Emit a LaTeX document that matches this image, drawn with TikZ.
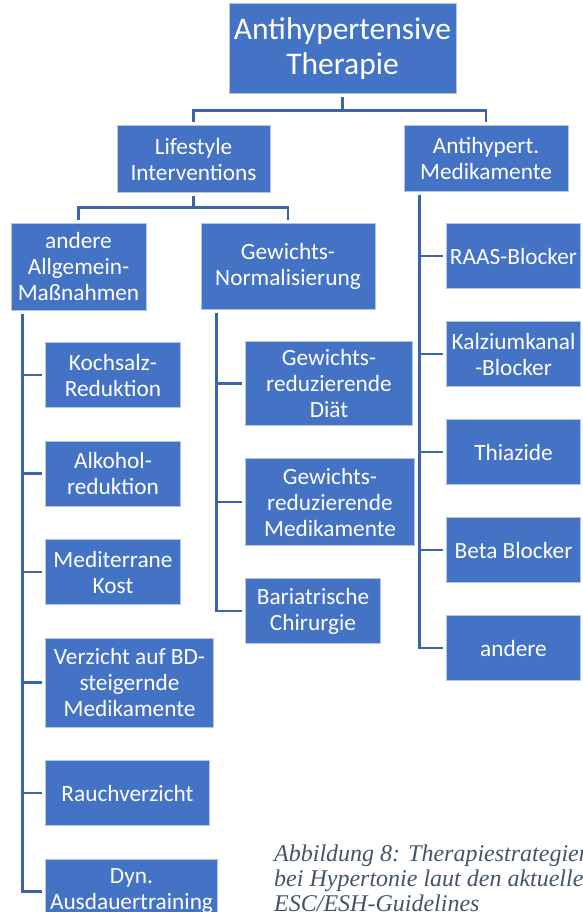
\documentclass[tikz,border=0pt]{standalone}
\usepackage{fontspec}
\usepackage{tikz}
\usetikzlibrary{positioning}
\newfontfamily\boxfont{Carlito}
\newfontfamily\capfont{Liberation Serif}
\definecolor{boxblue}{HTML}{4472C4}
\definecolor{lineblue}{HTML}{3C64AC}
\definecolor{capgray}{HTML}{44546A}
\tikzset{
    %Define style for boxes
    entry/.style={
           rectangle,
           draw=white!60!boxblue, line width=1pt,
           fill=boxblue,
           text=white,
           inner sep=0pt,
           align=center,
           font=\boxfont\fontsize{23.3}{26}\selectfont},
    head/.style={
           entry,
           font=\boxfont\fontsize{31.5}{35}\selectfont},
    boxsize/.style 2 args={minimum width=#1pt, minimum height=#2pt},
    % Define connector styles
    conn/.style={
           draw=lineblue,
           line width=2.7pt},
    drop/.style={to path={([yshift=-3pt]\tikztostart.south) -- ++(0,-#1) -| ([yshift=3pt]\tikztotarget.north)}},
    rail/.style={to path={([xshift=#1,yshift=-3pt]\tikztostart.south west) |- ([xshift=-3pt]\tikztotarget.west)}}
}
\begin{document}
\begin{tikzpicture}[x=1pt,y=-1pt]
\clip (0,0) rectangle (583,912);
\node[head, boxsize={227}{90}] (1) at (342.5,49) {Antihypertensive\\Therapie};
\node[entry, boxsize={153}{66}] (2) at (193.5,159) {Lifestyle\\Interventions};
\node[entry, boxsize={164}{65}] (3) at (486,158.5) {Antihypert.\\Medikamente};
\path[conn] (1) edge[drop=13pt] (2) (1) edge[drop=13pt] (3);

\node[entry, boxsize={135}{87}] (4) at (78.5,266.5) {andere\\Allgemein-\\Maßnahmen};
\node[entry, boxsize={174}{86}] (5) at (288,266) {Gewichts-\\Normalisierung};
\path[conn] (2) edge[drop=12pt] (4) (2) edge[drop=12pt] (5);

% left column
\node[entry, boxsize={135}{65}, anchor=north west] (6) at (45,342) {Kochsalz-\\Reduktion};
\node[entry, boxsize={135}{65}, below=32.5pt of 6.south west, anchor=north west] (7) {Alkohol-\\reduktion};
\node[entry, boxsize={135}{65}, below=32.5pt of 7.south west, anchor=north west] (8) {Mediterrane\\Kost};
\node[entry, boxsize={168}{89}, below=32.5pt of 8.south west, anchor=north west] (9) {Verzicht auf BD-\\steigernde\\Medikamente};
\node[entry, boxsize={164}{65}, below=32.5pt of 9.south west, anchor=north west] (10) {Rauchverzicht};
\node[entry, boxsize={172}{65}, below=32.5pt of 10.south west, anchor=north west] (11) {Dyn.\\Ausdauertraining};
\path[conn] (4) edge[rail=12pt] (6) (4) edge[rail=12pt] (7) (4) edge[rail=12pt] (8)
            (4) edge[rail=12pt] (9) (4) edge[rail=12pt] (10) (4) edge[rail=12pt] (11);

% middle column
\node[entry, boxsize={167}{84}, anchor=north west] (12) at (245,341) {Gewichts-\\reduzierende\\Diät};
\node[entry, boxsize={169}{87}, below=32pt of 12.south west, anchor=north west] (13) {Gewichts-\\reduzierende\\Medikamente};
\node[entry, boxsize={135}{65}, below=32pt of 13.south west, anchor=north west] (14) {Bariatrische\\Chirurgie};
\path[conn] (5) edge[rail=16pt] (12) (5) edge[rail=16pt] (13) (5) edge[rail=16pt] (14);

% right column
\node[entry, boxsize={134}{65}, anchor=north west] (15) at (446,223) {RAAS-Blocker};
\node[entry, boxsize={134}{65}, below=32pt of 15.south west, anchor=north west] (16) {Kalziumkanal\\-Blocker};
\node[entry, boxsize={134}{65}, below=32pt of 16.south west, anchor=north west] (17) {Thiazide};
\node[entry, boxsize={134}{65}, below=32pt of 17.south west, anchor=north west] (18) {Beta Blocker};
\node[entry, boxsize={134}{65}, below=32pt of 18.south west, anchor=north west] (19) {andere};
\path[conn] (3) edge[rail=16pt] (15) (3) edge[rail=16pt] (16) (3) edge[rail=16pt] (17)
            (3) edge[rail=16pt] (18) (3) edge[rail=16pt] (19);

\node[anchor=base west, align=left, inner sep=0pt, text=capgray,
      font=\capfont\itshape\fontsize{24}{25}\selectfont] (20) at (274,911)
      {Abbildung 8: Therapiestrategien\\bei Hypertonie laut den aktuellen\\ESC/ESH-Guidelines};
\end{tikzpicture}
\end{document}
